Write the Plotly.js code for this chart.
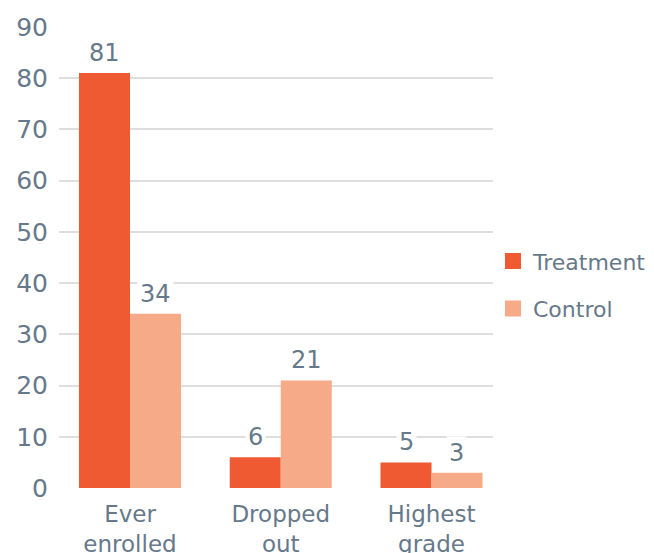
<!DOCTYPE html>
<html>
<head>
<meta charset="utf-8">
<script src="https://cdn.plot.ly/plotly-3.0.1.min.js"></script>
<style>
  html, body { margin: 0; padding: 0; background: #ffffff; }
  #chart { width: 654px; height: 553px; }
</style>
</head>
<body>
<div id="chart"></div>
<script>
// Outcome categories (two-line axis labels)
const categories = ["Ever<br>enrolled", "Dropped<br>out", "Highest<br>grade"];
// Percent values per group
const treatment = [81, 6, 5];
const control = [34, 21, 3];
const yTicks = [0, 10, 20, 30, 40, 50, 60, 70, 80, 90];

const TEXT = "#66798a";
const FONT = "DejaVu Sans";
const C_TREAT = "#f05a32";
const C_CTRL = "#f7aa87";

const traces = [
  { type: "bar", name: "Treatment", x: categories, y: treatment,
    marker: { color: C_TREAT }, showlegend: false, hoverinfo: "skip" },
  { type: "bar", name: "Control", x: categories, y: control,
    marker: { color: C_CTRL }, showlegend: false, hoverinfo: "skip" },
  // legend swatches
  { type: "scatter", mode: "markers", name: "Treatment", x: [null], y: [null],
    marker: { symbol: "square", size: 16, color: C_TREAT }, legendgroup: "t" },
  { type: "scatter", mode: "markers", name: "Control", x: [null], y: [null],
    marker: { symbol: "square", size: 16, color: C_CTRL }, legendgroup: "c" }
];

// value labels sitting above each bar, on a white patch over the grid
const annotations = [];
[[treatment, -25.3], [control, 25.3]].forEach(([vals, dx]) => {
  vals.forEach((v, i) => {
    annotations.push({
      x: categories[i], y: v, xref: "x", yref: "y",
      xshift: dx, yshift: 3, yanchor: "bottom",
      text: String(v), showarrow: false,
      bgcolor: "#ffffff", borderpad: 2,
      font: { family: FONT, size: 24, color: TEXT }
    });
  });
});

const layout = {
  width: 654, height: 553,
  margin: { l: 59, r: 161, t: 27, b: 65, autoexpand: false },
  paper_bgcolor: "#ffffff", plot_bgcolor: "#ffffff",
  barmode: "group", bargap: 0.323, bargroupgap: 0,
  font: { family: FONT, color: TEXT },
  xaxis: {
    type: "category", range: [-0.471, 2.408],
    showgrid: false, zeroline: false, showline: false,
    ticks: "", tickfont: { family: FONT, size: 23, color: TEXT },
    ticklabelstandoff: 10, fixedrange: true, automargin: false
  },
  yaxis: {
    range: [0, 90], tickvals: yTicks,
    showgrid: true, gridcolor: "#dedede", gridwidth: 2,
    zeroline: false, showline: false, ticks: "",
    tickfont: { family: FONT, size: 25, color: TEXT },
    ticklabelstandoff: 10, fixedrange: true, automargin: false
  },
  showlegend: true,
  legend: {
    x: 1.0, xanchor: "left", y: 0.44, yanchor: "middle",
    font: { family: FONT, size: 22, color: TEXT },
    tracegroupgap: 16, traceorder: "grouped",
    bgcolor: "rgba(0,0,0,0)"
  },
  annotations: annotations
};

Plotly.newPlot("chart", traces, layout, { displayModeBar: false, staticPlot: true });
</script>
</body>
</html>
